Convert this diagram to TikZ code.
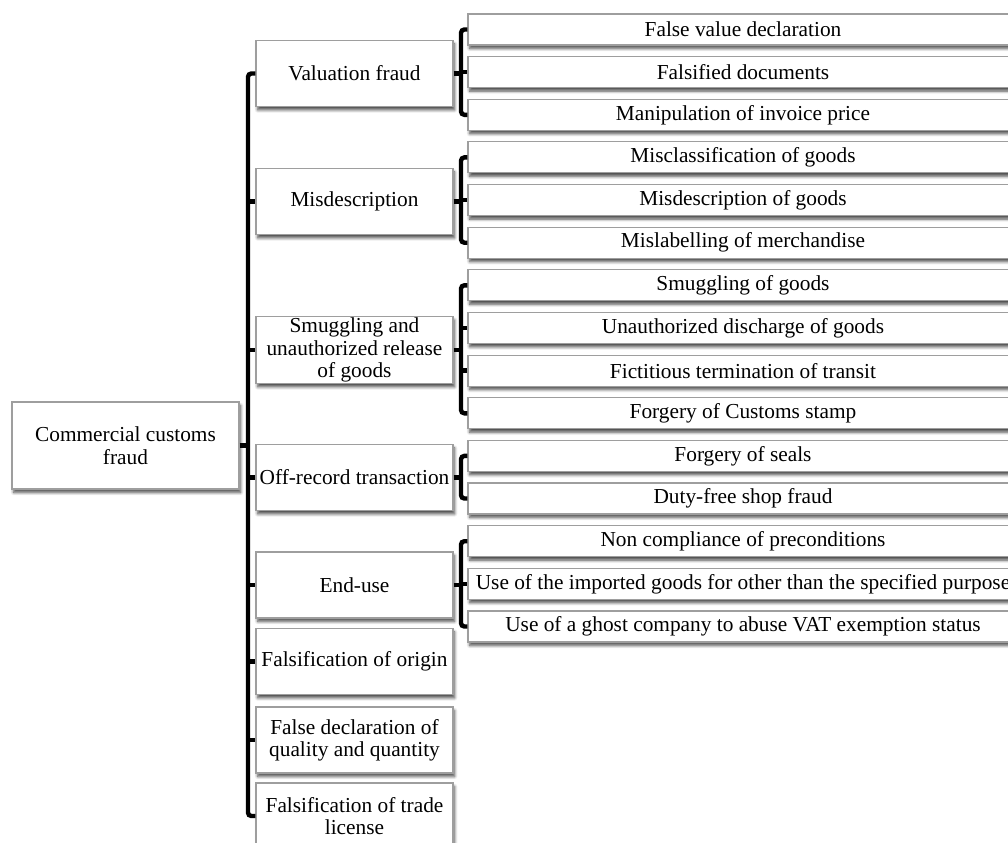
\documentclass[tikz,border=0pt]{standalone}
\usepackage{fontspec}
\setmainfont{Liberation Serif}
\usetikzlibrary{shadows.blur}
\begin{document}
\begin{tikzpicture}[x=0.75pt,y=-0.75pt,
  box/.style={draw=black!38, line width=0.8pt, fill=white,
    blur shadow={shadow xshift=1.2pt, shadow yshift=-2.6pt, shadow blur radius=2.2pt, shadow blur steps=6, shadow opacity=70},
    align=center, inner sep=1pt, font=\fontsize{16pt}{16.8pt}\selectfont},
  rootbox/.style={box, minimum width=170.25pt, minimum height=65.25pt},
  midbox/.style={box, minimum width=147.75pt, minimum height=49.5pt},
  leafbox/.style={box, minimum width=412.5pt, minimum height=23.25pt},
  conn/.style={line width=3.3pt, black, rounded corners=2.5pt}]
\useasboundingbox (0,0) rectangle (1008,843);
\coordinate (sp) at (248,0);
\coordinate (bx) at (461,0);
% root
\node[rootbox] (root) at (125.5,445.5) {Commercial customs\\fraud};
% middle level
\node[midbox] (vf) at (354.5,73.5) {Valuation fraud};
\node[midbox] (md) at (354.5,201.5) {Misdescription};
\node[midbox] (sm) at (354.5,350) {Smuggling and\\unauthorized release\\of goods};
\node[midbox] (or) at (354.5,477.5) {Off-record transaction};
\node[midbox] (eu) at (354.5,585) {End-use};
\node[midbox] (fo) at (354.5,661.5) {Falsification of origin};
\node[midbox] (fd) at (354.5,740) {False declaration of\\quality and quantity};
\node[midbox] (tl) at (354.5,816) {Falsification of trade\\license};
% leaves
\node[leafbox] (a0) at (743,29.5) {False value declaration};
\node[leafbox] (a1) at (743,72.1) {Falsified documents};
\node[leafbox] (a2) at (743,114.8) {Manipulation of invoice price};
\node[leafbox] (b0) at (743,157.4) {Misclassification of goods};
\node[leafbox] (b1) at (743,200.1) {Misdescription of goods};
\node[leafbox] (b2) at (743,242.7) {Mislabelling of merchandise};
\node[leafbox] (c0) at (743,285.3) {Smuggling of goods};
\node[leafbox] (c1) at (743,328.0) {Unauthorized discharge of goods};
\node[leafbox] (c2) at (743,370.6) {Fictitious termination of transit};
\node[leafbox] (c3) at (743,413.3) {Forgery of Customs stamp};
\node[leafbox] (d0) at (743,455.9) {Forgery of seals};
\node[leafbox] (d1) at (743,498.5) {Duty-free shop fraud};
\node[leafbox] (e0) at (743,541.2) {Non compliance of preconditions};
\node[leafbox] (e1) at (743,583.8) {Use of the imported goods for other than the specified purpose};
\node[leafbox] (e2) at (743,626.5) {Use of a ghost company to abuse VAT exemption status};
% spine
\draw[conn] (vf.west) -| (sp |- tl.west) -- (tl.west);
\draw[conn] (root.east) -- (root.east -| sp);
\foreach \n in {md,sm,or,eu,fo,fd}{
  \draw[conn] (\n.west -| sp) -- (\n.west);
}
% brackets
\draw[conn] (a0.west) -| (bx |- a2.west) -- (a2.west);
\draw[conn] (vf.east) -- (vf.east -| bx);
\draw[conn] (a1.west -| bx) -- (a1.west);
\draw[conn] (b0.west) -| (bx |- b2.west) -- (b2.west);
\draw[conn] (md.east) -- (md.east -| bx);
\draw[conn] (b1.west -| bx) -- (b1.west);
\draw[conn] (c0.west) -| (bx |- c3.west) -- (c3.west);
\draw[conn] (sm.east) -- (sm.east -| bx);
\draw[conn] (c1.west -| bx) -- (c1.west);
\draw[conn] (c2.west -| bx) -- (c2.west);
\draw[conn] (d0.west) -| (bx |- d1.west) -- (d1.west);
\draw[conn] (or.east) -- (or.east -| bx);
\draw[conn] (e0.west) -| (bx |- e2.west) -- (e2.west);
\draw[conn] (eu.east) -- (eu.east -| bx);
\draw[conn] (e1.west -| bx) -- (e1.west);
\end{tikzpicture}
\end{document}
